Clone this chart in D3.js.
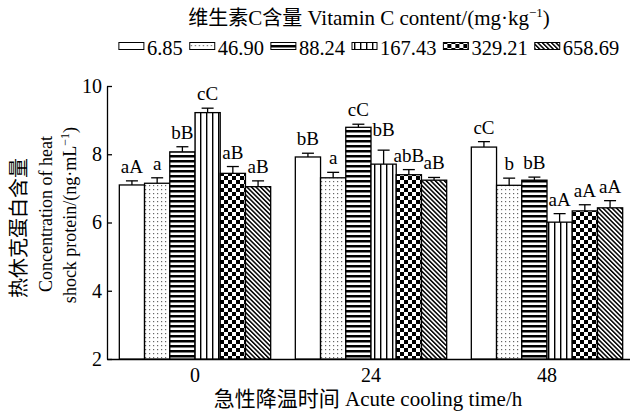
<!DOCTYPE html>
<html>
<head>
<meta charset="utf-8">
<title>Heat shock protein</title>
<script src="https://d3js.org/d3.v7.min.js"></script>
<style>
  body { margin: 0; background: #fff; }
  svg text { font-family: "Liberation Serif", "Times New Roman", "Noto Sans CJK SC", serif; fill: #000; }
  svg .cjk { font-family: "Noto Sans CJK SC", sans-serif; }
</style>
</head>
<body>
<script>

// data
var times = ["0", "24", "48"];
var doses = ["6.85", "46.90", "88.24", "167.43", "329.21", "658.69"];
var means = [
    [7.10, 7.15, 8.07, 9.22, 7.44, 7.05],
    [7.92, 7.31, 8.79, 7.71, 7.40, 7.24],
    [8.21, 7.09, 7.24, 6.01, 6.34, 6.43]
];
var errs = [
    [0.12, 0.16, 0.15, 0.13, 0.20, 0.17],
    [0.11, 0.16, 0.09, 0.41, 0.15, 0.08],
    [0.16, 0.21, 0.09, 0.25, 0.18, 0.21]
];
var letters = [
    ["aA", "a", "bB", "cC", "aB", "aB"],
    ["bB", "a", "cC", "bB", "abB", "aB"],
    ["cC", "b", "bB", "aA", "aA", "aA"]
];
var yTicks = [2, 4, 6, 8, 10];

var W = 630, H = 414;

var svg = d3.select("body").append("svg")
    .attr("width", W)
    .attr("height", H);

// fill patterns
var defs = svg.append("defs");
var pats = ["p0", "p1", "p2", "p3", "p4", "p5"];

defs.append("pattern").attr("id", "p0").attr("patternUnits", "userSpaceOnUse")
    .attr("width", 4).attr("height", 4)
    .append("rect").attr("width", 4).attr("height", 4).attr("fill", "#fff");

var p1 = defs.append("pattern").attr("id", "p1").attr("patternUnits", "userSpaceOnUse")
    .attr("width", 4).attr("height", 4);
p1.append("rect").attr("width", 4).attr("height", 4).attr("fill", "#fff");
p1.append("rect").attr("x", 1).attr("y", 1).attr("width", 1.2).attr("height", 1.2).attr("fill", "#666");

var p2 = defs.append("pattern").attr("id", "p2").attr("patternUnits", "userSpaceOnUse")
    .attr("width", 5).attr("height", 5);
p2.append("rect").attr("width", 5).attr("height", 5).attr("fill", "#fff");
p2.append("rect").attr("y", 0).attr("width", 5).attr("height", 2.5).attr("fill", "#000");

var p3 = defs.append("pattern").attr("id", "p3").attr("patternUnits", "userSpaceOnUse")
    .attr("width", 6).attr("height", 6);
p3.append("rect").attr("width", 6).attr("height", 6).attr("fill", "#fff");
p3.append("rect").attr("x", 2).attr("width", 1.4).attr("height", 6).attr("fill", "#000");

var p4 = defs.append("pattern").attr("id", "p4").attr("patternUnits", "userSpaceOnUse")
    .attr("width", 8).attr("height", 8);
p4.append("rect").attr("width", 8).attr("height", 8).attr("fill", "#fff");
p4.append("rect").attr("width", 4).attr("height", 4).attr("fill", "#000");
p4.append("rect").attr("x", 4).attr("y", 4).attr("width", 4).attr("height", 4).attr("fill", "#000");

var p5 = defs.append("pattern").attr("id", "p5").attr("patternUnits", "userSpaceOnUse")
    .attr("width", 3.2).attr("height", 10).attr("patternTransform", "rotate(-45)");
p5.append("rect").attr("width", 3.2).attr("height", 10).attr("fill", "#fff");
p5.append("rect").attr("width", 1.5).attr("height", 10).attr("fill", "#000");

// scales
var x0 = d3.scaleBand().domain(times).range([107, 635]).paddingInner(0.14).paddingOuter(0.07);
var x1 = d3.scaleBand().domain(d3.range(doses.length)).range([0, x0.bandwidth()]);
var y = d3.scaleLinear().domain([2, 10]).range([359, 86]);

// axes
svg.append("g")
    .attr("transform", "translate(107,0)")
    .call(d3.axisLeft(y).tickValues(yTicks).tickSizeInner(-5).tickSizeOuter(0).tickPadding(5))
    .call(function (g) {
        g.selectAll("path, line").attr("stroke", "#000").attr("stroke-width", 1.3);
        g.selectAll("text").style("font-size", "20px");
    });

svg.append("g")
    .attr("transform", "translate(0,359)")
    .call(d3.axisBottom(x0).tickSize(0).tickPadding(9))
    .call(function (g) {
        g.select(".domain").attr("stroke", "#000").attr("stroke-width", 1.3);
        g.selectAll("text").style("font-size", "20px");
    });

// bars
var rows = [];
times.forEach(function (t, i) {
    doses.forEach(function (d, j) {
        rows.push({ t: t, j: j, v: means[i][j], e: errs[i][j], lab: letters[i][j] });
    });
});

var bw = x1.bandwidth();

var g = svg.append("g");
g.selectAll("rect.bar").data(rows).enter().append("rect")
    .attr("class", "bar")
    .attr("x", function (d) { return x0(d.t) + x1(d.j); })
    .attr("y", function (d) { return y(d.v); })
    .attr("width", bw)
    .attr("height", function (d) { return y(2) - y(d.v); })
    .attr("fill", function (d) { return "url(#" + pats[d.j] + ")"; })
    .attr("stroke", "#000")
    .attr("stroke-width", 1.3);

// error bars (upper only)
g.selectAll("line.err").data(rows).enter().append("line")
    .attr("class", "err")
    .attr("x1", function (d) { return x0(d.t) + x1(d.j) + bw / 2; })
    .attr("x2", function (d) { return x0(d.t) + x1(d.j) + bw / 2; })
    .attr("y1", function (d) { return y(d.v); })
    .attr("y2", function (d) { return y(d.v + d.e); })
    .attr("stroke", "#000").attr("stroke-width", 1.3);

g.selectAll("line.cap").data(rows).enter().append("line")
    .attr("class", "cap")
    .attr("x1", function (d) { return x0(d.t) + x1(d.j) + bw / 2 - 6; })
    .attr("x2", function (d) { return x0(d.t) + x1(d.j) + bw / 2 + 6; })
    .attr("y1", function (d) { return y(d.v + d.e); })
    .attr("y2", function (d) { return y(d.v + d.e); })
    .attr("stroke", "#000").attr("stroke-width", 1.3);

// significance letters; the 24 h / 167.43 one sits a bit higher in the original
var lift = { "24-3": 6 };
g.selectAll("text.sig").data(rows).enter().append("text")
    .attr("class", "sig")
    .attr("x", function (d) { return x0(d.t) + x1(d.j) + bw / 2; })
    .attr("y", function (d) { return y(d.v + d.e) - 8 - (lift[d.t + "-" + d.j] || 0); })
    .attr("text-anchor", "middle")
    .style("font-size", "19px")
    .text(function (d) { return d.lab; });

// title
var title = svg.append("text")
    .attr("x", 369).attr("y", 25)
    .attr("text-anchor", "middle")
    .style("font-size", "21px");
title.append("tspan").attr("class", "cjk").style("font-size", "20px").text("维生素");
title.append("tspan").text("C");
title.append("tspan").attr("class", "cjk").style("font-size", "20px").text("含量");
title.append("tspan").text(" Vitamin C content/(mg·kg");
title.append("tspan").attr("dy", -8).style("font-size", "13px").text("−1");
title.append("tspan").attr("dy", 8).text(")");

// legend
var leg = svg.append("g").attr("transform", "translate(0,0)");
var lx = 0;
doses.forEach(function (d, j) {
    var it = leg.append("g").attr("transform", "translate(" + lx + ",0)");
    it.append("rect").attr("x", 0).attr("y", 42.5).attr("width", 25).attr("height", 7)
        .attr("fill", "url(#" + pats[j] + ")")
        .attr("stroke", "#000").attr("stroke-width", 1);
    var t = it.append("text").attr("x", 28).attr("y", 55).style("font-size", "20.5px").text(d);
    lx += 28 + t.node().getComputedTextLength() + 7;
});
leg.attr("transform", "translate(" + (369 - (lx - 7) / 2) + ",0)");

// y axis label
var yl = svg.append("g").style("font-size", "18px");
yl.append("text").attr("class", "cjk").attr("transform", "translate(26,228) rotate(-90)")
    .attr("text-anchor", "middle").style("font-size", "20px")
    .text("热休克蛋白含量");
yl.append("text").attr("transform", "translate(52,214) rotate(-90)").attr("text-anchor", "middle")
    .text("Concentration of heat");
var l3 = yl.append("text").attr("transform", "translate(76,215) rotate(-90)").attr("text-anchor", "middle");
l3.append("tspan").text("shock protein/(ng·mL");
l3.append("tspan").attr("dy", -7).style("font-size", "12px").text("−1");
l3.append("tspan").attr("dy", 7).text(")");

// x axis label
var xl = svg.append("text")
    .attr("x", 368).attr("y", 406)
    .attr("text-anchor", "middle")
    .style("font-size", "21px");
xl.append("tspan").attr("class", "cjk").text("急性降温时间");
xl.append("tspan").text(" Acute cooling time/h");

</script>
</body>
</html>
